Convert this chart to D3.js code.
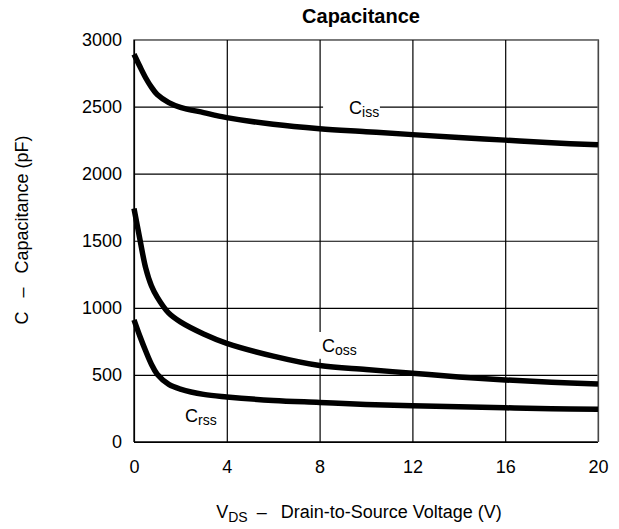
<!DOCTYPE html>
<html>
<head>
<meta charset="utf-8">
<script src="https://cdn.jsdelivr.net/npm/d3@7"></script>
<style>
  body { margin: 0; background: #fff; }
  svg { display: block; font-family: "Liberation Sans", Arial, Helvetica, sans-serif; }
</style>
</head>
<body>
<div id="chart"></div>
<script>
// Data
const vds = [0, 0.25, 0.5, 0.75, 1, 1.5, 2, 3, 4, 6, 8, 10, 12, 14, 16, 18, 20];
const ciss = [2890, 2800, 2715, 2645, 2590, 2530, 2495, 2455, 2418, 2368, 2335, 2313, 2291, 2270, 2250, 2230, 2215];
const coss = [1740, 1515, 1300, 1165, 1080, 960, 895, 805, 735, 640, 570, 540, 513, 485, 463, 445, 433];
const crss = [910, 790, 680, 580, 505, 430, 395, 355, 336, 310, 295, 280, 270, 262, 255, 248, 244];
const xTicks = [0, 4, 8, 12, 16, 20];
const yTicks = [0, 500, 1000, 1500, 2000, 2500, 3000];

const series = [
  { name: "iss", values: ciss },
  { name: "oss", values: coss },
  { name: "rss", values: crss }
];

// Dimensions
const width = 619;
const height = 529;
const margin = { top: 39.5, right: 21, bottom: 87, left: 134 };
const w = width - margin.left - margin.right;
const h = height - margin.top - margin.bottom;

const x = d3.scaleLinear().domain([0, 20]).range([0, w]);
const y = d3.scaleLinear().domain([0, 3000]).range([h, 0]);

const svg = d3.select("#chart").append("svg")
  .attr("width", width)
  .attr("height", height);

// title
svg.append("text")
  .attr("x", 361)
  .attr("y", 23)
  .attr("text-anchor", "middle")
  .attr("font-size", 20)
  .attr("font-weight", "bold")
  .text("Capacitance");

const g = svg.append("g")
  .attr("transform", `translate(${margin.left},${margin.top})`);

// grid + tick labels
const yAxis = g.append("g")
  .call(d3.axisLeft(y).tickValues(yTicks).tickSize(-w).tickPadding(12).tickFormat(d3.format("d")));
const xAxis = g.append("g")
  .attr("transform", `translate(0,${h})`)
  .call(d3.axisBottom(x).tickValues(xTicks).tickSize(-h).tickPadding(18).tickFormat(d3.format("d")));

[xAxis, yAxis].forEach(a => {
  a.select(".domain").remove();
  a.selectAll("line").attr("stroke", "#000").attr("stroke-width", 1.2);
  a.selectAll("text").attr("font-size", 18).attr("fill", "#000")
    .attr("font-family", "Liberation Sans, Arial, Helvetica, sans-serif");
});

// frame
g.append("line").attr("x1", 0).attr("x2", 0).attr("y1", 0).attr("y2", h).attr("stroke", "#000").attr("stroke-width", 1.3);
g.append("line").attr("x1", 0).attr("x2", w).attr("y1", h).attr("y2", h).attr("stroke", "#000").attr("stroke-width", 1.3);
g.append("line").attr("x1", 0).attr("x2", w).attr("y1", 0).attr("y2", 0).attr("stroke", "#777").attr("stroke-width", 1.2);
g.append("line").attr("x1", w).attr("x2", w).attr("y1", 0).attr("y2", h).attr("stroke", "#777").attr("stroke-width", 1.2);

// white patches where the labels break the grid
g.append("rect").attr("x", x(8.15)).attr("y", y(2500) - 6).attr("width", x(10.6) - x(8.15)).attr("height", 12).attr("fill", "#fff");
g.append("rect").attr("x", x(8) - 4).attr("y", y(820)).attr("width", 8).attr("height", y(620) - y(820)).attr("fill", "#fff");

// curves
const line = d3.line()
  .x((d, i) => x(vds[i]))
  .y(d => y(d))
  .curve(d3.curveCatmullRom.alpha(0.5));

g.append("g")
  .selectAll("path")
  .data(series)
  .join("path")
  .attr("fill", "none")
  .attr("stroke", "#000")
  .attr("stroke-width", 5.5)
  .attr("stroke-linejoin", "round")
  .attr("d", d => line(d.values));

// curve labels
const labels = [
  { sub: "iss", vx: 9.27, vy: 2445 },
  { sub: "oss", vx: 8.1, vy: 670 },
  { sub: "rss", vx: 2.2, vy: 150 }
];
const lab = g.append("g").attr("font-size", 18)
  .selectAll("text")
  .data(labels)
  .join("text")
  .attr("x", d => x(d.vx))
  .attr("y", d => y(d.vy));
lab.append("tspan").text("C");
lab.append("tspan").attr("font-size", 14).attr("dy", 3).text(d => d.sub);

// axis titles
const xl = svg.append("text")
  .attr("x", 359)
  .attr("y", 518)
  .attr("text-anchor", "middle")
  .attr("font-size", 18);
xl.append("tspan").text("V");
xl.append("tspan").attr("font-size", 14).attr("dy", 4).text("DS");
xl.append("tspan").attr("dy", -4).text("\u2002\u2013\u2002 Drain-to-Source Voltage (V)");

svg.append("text")
  .attr("transform", "translate(28,230) rotate(-90)")
  .attr("text-anchor", "middle")
  .attr("font-size", 18)
  .text("C \u2002\u2013\u2002 Capacitance (pF)");
</script>
</body>
</html>
